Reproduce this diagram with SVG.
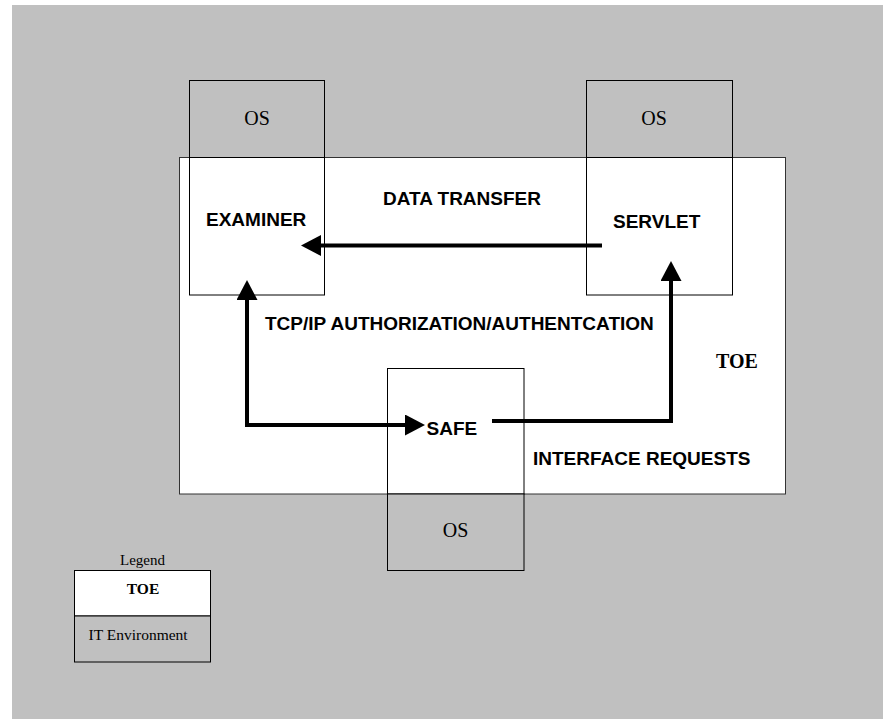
<svg xmlns="http://www.w3.org/2000/svg" width="883" height="719" viewBox="0 0 883 719">
<style>
.os{fill:#c0c0c0;stroke:#000;stroke-width:1}
.box{fill:#fff;stroke:#000;stroke-width:1}
.ser{font-family:"Liberation Serif","Times New Roman",serif;fill:#000}
.sans{font-family:"Liberation Sans",Arial,sans-serif;font-weight:bold;font-size:19px;fill:#000}
.conn{fill:none;stroke:#000;stroke-width:4;stroke-linejoin:miter}
</style>
<defs>
<marker id="ah" markerUnits="userSpaceOnUse" markerWidth="20" markerHeight="21" refX="10" refY="10.5" orient="auto-start-reverse">
<path d="M0,0 L20,10.5 L0,21 z" fill="#000"/>
</marker>
</defs>
<rect x="0" y="0" width="883" height="719" fill="#fff"/>
<rect x="12" y="5" width="871" height="714" fill="#c0c0c0"/>
<g id="toe">
<rect x="179.5" y="157.5" width="606" height="336.5" fill="#fff" stroke="#333" stroke-width="1"/>
<text class="ser" x="737" y="368" font-size="20" font-weight="bold" text-anchor="middle">TOE</text>
</g>
<g id="examiner">
<rect class="os" x="189.5" y="80.5" width="135" height="77"/>
<text class="ser" x="257" y="125" font-size="20" text-anchor="middle">OS</text>
<rect class="box" x="189.5" y="157.5" width="135" height="137.5"/>
<text class="sans" x="206" y="226">EXAMINER</text>
</g>
<g id="servlet">
<rect class="os" x="586.5" y="80.5" width="146" height="77"/>
<text class="ser" x="654" y="125" font-size="20" text-anchor="middle">OS</text>
<rect class="box" x="586.5" y="157.5" width="146" height="137.5"/>
<text class="sans" x="613" y="228">SERVLET</text>
</g>
<g id="safe">
<rect class="box" x="387.5" y="368.5" width="136.5" height="125.5"/>
<rect class="os" x="387.5" y="494" width="136.5" height="76.5"/>
<text class="ser" x="455.5" y="537" font-size="20" text-anchor="middle">OS</text>
<text class="sans" x="426.5" y="435">SAFE</text>
</g>
<g id="connectors">
<path class="conn" d="M602,245.5 L311,245.5" marker-end="url(#ah)"/>
<path class="conn" d="M247,290 L247,425 L415,425" marker-start="url(#ah)" marker-end="url(#ah)"/>
<path class="conn" d="M492,421 L671,421 L671,271" marker-end="url(#ah)"/>
</g>
<g id="labels">
<text class="sans" x="383" y="205">DATA TRANSFER</text>
<text class="sans" x="265" y="330">TCP/IP AUTHORIZATION/AUTHENTCATION</text>
<text class="sans" x="533" y="465">INTERFACE REQUESTS</text>
</g>
<g id="legend">
<text class="ser" x="142.5" y="565" font-size="15" text-anchor="middle">Legend</text>
<rect class="box" x="74.5" y="570.5" width="136" height="45.5"/>
<text class="ser" x="143" y="594" font-size="15.5" font-weight="bold" text-anchor="middle">TOE</text>
<rect class="os" x="74.5" y="616" width="136" height="46"/>
<text class="ser" x="88.5" y="640" font-size="15.5">IT Environment</text>
</g>
</svg>
